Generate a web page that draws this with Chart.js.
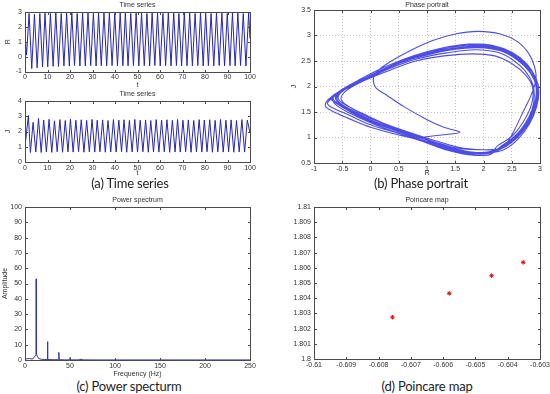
<!DOCTYPE html>
<html>
<head>
<meta charset="utf-8">
<script src="https://cdn.jsdelivr.net/npm/chart.js@4.4.1/dist/chart.umd.min.js"></script>
<style>
  html, body { margin:0; padding:0; background:#fff; width:550px; height:394px; overflow:hidden; }
  body { position:relative; }
  canvas { position:absolute; }
  .cap { position:absolute; transform:translate(-50%,-50%); font-family:Lato, 'Open Sans', sans-serif; font-size:13px; letter-spacing:-0.2px; color:#1e1e1e; white-space:nowrap; }
</style>
</head>
<body>
<canvas id="cR"></canvas>
<canvas id="cJ"></canvas>
<canvas id="cP"></canvas>
<canvas id="cS"></canvas>
<canvas id="cM"></canvas>
<div class="cap" style="left:130px;top:183px">(a) Time series</div>
<div class="cap" style="left:421px;top:183px">(b) Phase portrait</div>
<div class="cap" style="left:129px;top:386px">(c) Power specturm</div>
<div class="cap" style="left:427px;top:386px">(d) Poincare map</div>
<script>
// ---------------- DATA ----------------
// Time series R(t): times of turning points and values
const rTime = [0,0.7,1.8,3.0,4.2,5.4,6.6,7.8,8.9,10.1,11.3,12.5,13.7,14.9,16.1,17.3,18.5,19.7,20.8,22.0,23.2,24.4,25.6,26.8,28.0,29.2,30.4,31.6,32.7,33.9,35.1,36.3,37.5,38.7,39.9,41.1,42.3,43.5,44.6,45.8,47.0,48.2,49.4,50.6,51.8,53.0,54.2,55.4,56.5,57.7,58.9,60.1,61.3,62.5,63.7,64.9,66.1,67.3,68.4,69.6,70.8,72.0,73.2,74.4,75.6,76.8,78.0,79.2,80.3,81.5,82.7,83.9,85.1,86.3,87.5,88.7,89.9,91.1,92.2,93.4,94.6,95.8,97.0,98.2,99.4,100];
const rValue = [1.5,0.1,
  2.9,-0.8, 2.85,-0.75, 2.9,-0.7, 2.92,-0.68, 2.9,-0.65, 2.93,-0.66, 2.9,-0.62, 2.92,-0.64, 2.93,-0.6, 2.9,-0.63,
  2.92,-0.62, 2.93,-0.6, 2.9,-0.63, 2.92,-0.61, 2.93,-0.62, 2.92,-0.6, 2.9,-0.63, 2.93,-0.61, 2.92,-0.62, 2.9,-0.6,
  2.93,-0.63, 2.92,-0.61, 2.9,-0.62, 2.93,-0.6, 2.92,-0.63, 2.9,-0.61, 2.93,-0.62, 2.92,-0.6, 2.9,-0.63, 2.93,-0.61,
  2.92,-0.62, 2.9,-0.6, 2.93,-0.63, 2.92,-0.61, 2.9,-0.62, 2.93,-0.6, 2.92,-0.63, 2.9,-0.61, 2.93,-0.62, 2.92,-0.6,
  2.9,-0.63,
  2.93, 1.2];
// Time series J(t)
const jTime = [0,1.5,2.4,3.6,4.8,6.0,7.2,8.3,9.5,10.7,11.9,13.1,14.3,15.5,16.7,17.9,19.1,20.2,21.4,22.6,23.8,25.0,26.2,27.4,28.6,29.8,31.0,32.1,33.3,34.5,35.7,36.9,38.1,39.3,40.5,41.7,42.9,44.0,45.2,46.4,47.6,48.8,50.0,51.2,52.4,53.6,54.8,55.9,57.1,58.3,59.5,60.7,61.9,63.1,64.3,65.5,66.7,67.8,69.0,70.2,71.4,72.6,73.8,75.0,76.2,77.4,78.6,79.7,80.9,82.1,83.3,84.5,85.7,86.9,88.1,89.3,90.5,91.6,92.8,94.0,95.2,96.4,97.6,98.8,100];
const jValue = [1.0,3.05,
  0.62,2.6, 0.65,2.85, 0.62,2.75, 0.66,2.8, 0.63,2.7, 0.67,2.78, 0.64,2.72, 0.66,2.8, 0.65,2.74, 0.67,2.77,
  0.64,2.73, 0.66,2.79, 0.65,2.74, 0.67,2.76, 0.64,2.72, 0.66,2.78, 0.65,2.75, 0.67,2.77, 0.64,2.73, 0.66,2.79,
  0.65,2.74, 0.67,2.76, 0.64,2.72, 0.66,2.78, 0.65,2.75, 0.67,2.77, 0.64,2.73, 0.66,2.79, 0.65,2.74, 0.67,2.76,
  0.64,2.72, 0.66,2.78, 0.65,2.75, 0.67,2.77, 0.64,2.73, 0.66,2.79, 0.65,2.74, 0.67,2.76, 0.64,2.72, 0.66,2.78,
  0.65,2.75,
  1.9];

// Phase portrait (R, J) trajectory: transient and successive loops
const transient = [[0.95,1.01],[1.25,1.05],[1.58,1.1],[1.3,1.2],[1.0,1.35],[0.6,1.6],[0.3,1.82],[0.1,1.97],[0.05,2.1],[0.08,2.25],[0.3,2.45],[0.7,2.7],[1.1,2.9],[1.5,3.03],[1.9,3.08],[2.3,3.03],[2.6,2.88],[2.8,2.65],[2.9,2.4],[2.93,2.15],[2.85,1.85],[2.7,1.5],[2.55,1.15],[2.42,0.9]];
const loop1 = [[2.3,0.78],[1.9,0.7],[1.5,0.78],[1.0,0.92],[0.5,1.05],[0.0,1.2],[-0.4,1.38],[-0.68,1.52],[-0.8,1.62],[-0.74,1.75],[-0.5,1.94],[-0.1,2.15],[0.4,2.42],[1.0,2.66],[1.5,2.78],[1.9,2.82],[2.3,2.75],[2.6,2.58],[2.85,2.3],[2.95,2.0],[2.92,1.7],[2.8,1.35],[2.6,1.05],[2.35,0.82]];
const loop2 = [[2.2,0.74],[1.8,0.68],[1.4,0.76],[1.0,0.9],[0.5,1.08],[0.0,1.25],[-0.4,1.45],[-0.7,1.6],[-0.76,1.68],[-0.65,1.8],[-0.45,1.96],[0.0,2.2],[0.5,2.45],[1.0,2.62],[1.5,2.73],[1.9,2.76],[2.3,2.7],[2.6,2.52],[2.82,2.28],[2.93,2.0],[2.9,1.65],[2.75,1.3],[2.55,1.0],[2.3,0.8]];
const loop3 = [[2.1,0.7],[1.7,0.7],[1.3,0.8],[0.9,0.96],[0.4,1.15],[0.0,1.32],[-0.35,1.5],[-0.62,1.68],[-0.7,1.76],[-0.58,1.86],[-0.42,1.98],[0.1,2.25],[0.6,2.5],[1.1,2.66],[1.6,2.76],[2.0,2.78],[2.4,2.68],[2.7,2.46],[2.88,2.2],[2.95,1.95],[2.9,1.6],[2.78,1.28],[2.55,0.98],[2.3,0.78]];
const loop4 = [[2.0,0.76],[1.6,0.8],[1.2,0.92],[0.8,1.06],[0.3,1.25],[-0.1,1.45],[-0.4,1.62],[-0.52,1.75],[-0.45,1.9],[-0.2,2.07],[0.3,2.3],[0.8,2.5],[1.3,2.6],[1.8,2.64],[2.2,2.6],[2.5,2.45],[2.75,2.22],[2.87,1.98],[2.85,1.65],[2.7,1.3],[2.5,1.02],[2.25,0.84]];
const loop5 = [[2.15,0.72],[1.75,0.72],[1.35,0.82],[0.95,0.97],[0.5,1.13],[0.05,1.32],[-0.3,1.52],[-0.58,1.7],[-0.62,1.8],[-0.48,1.93],[-0.2,2.1],[0.3,2.37],[0.8,2.57],[1.3,2.7],[1.8,2.77],[2.2,2.74],[2.5,2.6],[2.75,2.38],[2.9,2.12],[2.95,1.88],[2.9,1.58],[2.78,1.27],[2.58,1.0],[2.35,0.8]];
const loop6 = [[2.05,0.68],[1.65,0.7],[1.25,0.8],[0.85,0.95],[0.4,1.12],[0.0,1.3],[-0.35,1.5],[-0.6,1.68],[-0.66,1.78],[-0.55,1.9],[-0.35,2.02],[0.1,2.27],[0.6,2.52],[1.1,2.68],[1.6,2.77],[2.0,2.8],[2.4,2.7],[2.72,2.45],[2.9,2.15],[2.96,1.9],[2.92,1.6],[2.8,1.3],[2.6,1.02],[2.35,0.8]];
const loop7 = [[2.0,0.76],[1.6,0.78],[1.2,0.89],[0.8,1.04],[0.35,1.22],[-0.05,1.4],[-0.38,1.6],[-0.56,1.74],[-0.55,1.85],[-0.42,1.96],[-0.12,2.12],[0.35,2.36],[0.85,2.55],[1.35,2.66],[1.85,2.72],[2.25,2.67],[2.52,2.52],[2.74,2.3],[2.87,2.05],[2.9,1.82],[2.86,1.55],[2.73,1.26],[2.53,1.0],[2.3,0.82]];
const loop8 = [[2.1,0.66],[1.7,0.67],[1.3,0.77],[0.9,0.93],[0.45,1.1],[0.0,1.29],[-0.37,1.48],[-0.62,1.65],[-0.67,1.78],[-0.52,1.93],[-0.22,2.12],[0.25,2.38],[0.75,2.6],[1.25,2.75],[1.75,2.83],[2.15,2.81],[2.5,2.67],[2.77,2.44],[2.93,2.16],[2.98,1.9],[2.94,1.6],[2.82,1.28],[2.62,0.98],[2.36,0.76]];
const loop9 = [[2.08,0.7],[1.68,0.71],[1.28,0.81],[0.88,0.96],[0.42,1.14],[0.0,1.33],[-0.35,1.52],[-0.58,1.69],[-0.61,1.8],[-0.48,1.93],[-0.22,2.1],[0.22,2.33],[0.72,2.55],[1.22,2.69],[1.72,2.77],[2.12,2.77],[2.46,2.64],[2.73,2.41],[2.9,2.14],[2.95,1.9],[2.91,1.6],[2.79,1.29],[2.59,1.01],[2.34,0.8]];
const loop10 = [[2.12,0.71],[1.72,0.72],[1.32,0.82],[0.92,0.98],[0.48,1.15],[0.02,1.34],[-0.33,1.53],[-0.56,1.7],[-0.59,1.81],[-0.46,1.94],[-0.18,2.12],[0.28,2.37],[0.78,2.58],[1.28,2.71],[1.78,2.79],[2.18,2.76],[2.5,2.61],[2.76,2.39],[2.91,2.12],[2.96,1.88],[2.92,1.58],[2.8,1.28],[2.6,1.0],[2.35,0.8],[2.1,0.7]];

// Power spectrum
const freq = [0,2,5,8,10,11.5,12.2,12.4,12.6,12.8,13.0,13.6,15,18,22,24.6,25.0,25.4,30,37.2,37.6,38.0,44,49.7,50.1,50.5,60,62.5,63,80,100,150,200,250];
const amp  = [0.3,0.8,1.0,0.6,1.5,3.0,4.5,53,4.5,24,4,2.5,1.0,0.5,0.3,0.3,12,0.3,0.2,0.2,5,0.2,0.1,0.1,1.5,0.1,0.1,0.6,0.1,0.05,0.05,0.05,0.05,0.05];

// Poincare map
const poincareR = [-0.60757,-0.60581,-0.60450,-0.60352];
const poincareJ = [1.80275,1.80432,1.80548,1.80636];

// ---------------- DRAWING ----------------
const FONT = "'Liberation Sans', Arial, sans-serif";
const TXT = '#333';
const tickFont = {family: FONT, size: 7};
const fmt = v => String(+Number(v).toFixed(4));

const boxPlugin = {
  id: 'box',
  afterDraw(chart) {
    const {ctx, chartArea: a, scales} = chart;
    const l = Math.round(a.left) + 0.5, t = Math.round(a.top) + 0.5;
    const r = Math.round(a.right) + 0.5, b = Math.round(a.bottom) + 0.5;
    ctx.save();
    ctx.strokeStyle = '#4a4a4a';
    ctx.lineWidth = 1;
    ctx.strokeRect(l, t, r - l, b - t);
    const L = 2.5;
    ctx.beginPath();
    scales.x.ticks.forEach(tk => {
      const p = Math.round(scales.x.getPixelForValue(tk.value)) + 0.5;
      ctx.moveTo(p, b); ctx.lineTo(p, b - L);
      ctx.moveTo(p, t); ctx.lineTo(p, t + L);
    });
    scales.y.ticks.forEach(tk => {
      const p = Math.round(scales.y.getPixelForValue(tk.value)) + 0.5;
      ctx.moveTo(l, p); ctx.lineTo(l + L, p);
      ctx.moveTo(r, p); ctx.lineTo(r - L, p);
    });
    ctx.stroke();
    ctx.restore();
  }
};

function panel(id, rect, area, o) {
  const cv = document.getElementById(id);
  cv.width = rect.w; cv.height = rect.h;
  cv.style.left = rect.x + 'px'; cv.style.top = rect.y + 'px';
  cv.style.width = rect.w + 'px'; cv.style.height = rect.h + 'px';
  const yW = area.l - rect.x;
  const xH = rect.y + rect.h - area.b;
  const padR = rect.x + rect.w - area.r;
  const tpb = area.t - rect.y - 7 * 1.2;
  const gridOpt = o.grid
    ? {display: true, drawTicks: false, color: '#b5b5b5', lineWidth: 0.8}
    : {display: false, drawTicks: false};
  const borderOpt = o.grid ? {display: false, dash: [1, 2]} : {display: false};
  const axisTitle = (txt, pad) => txt
    ? {display: true, text: txt, color: TXT, font: {family: FONT, size: 7}, padding: pad}
    : {display: false};
  return new Chart(cv, {
    type: 'line',
    data: {datasets: o.datasets},
    options: {
      responsive: false, animation: false, events: [],
      layout: {padding: {left: 0, top: 0, right: padR, bottom: 0}},
      plugins: {
        legend: {display: false}, tooltip: {enabled: false},
        title: {display: true, text: o.title, fullSize: false, color: TXT,
          font: {family: FONT, size: 7, weight: 'normal'}, padding: {top: 0, bottom: tpb}}
      },
      scales: {
        x: {type: 'linear', min: o.x[0], max: o.x[1],
          afterFit(s) { s.height = xH; },
          ticks: {stepSize: o.x[2], autoSkip: false, maxRotation: 0, font: tickFont, color: TXT, padding: 1.5, callback: fmt},
          grid: gridOpt, border: borderOpt,
          title: axisTitle(o.xTitle, {top: 0, bottom: o.xTitlePad || 0})},
        y: {type: 'linear', min: o.y[0], max: o.y[1],
          afterFit(s) { s.width = yW; },
          ticks: {stepSize: o.y[2], autoSkip: false, font: tickFont, color: TXT, padding: 3, callback: fmt},
          grid: gridOpt, border: borderOpt,
          title: axisTitle(o.yTitle, {top: o.yTitlePad || 0, bottom: 0})}
      }
    },
    plugins: [boxPlugin]
  });
}

const zip = (xs, ys) => xs.slice(0, Math.min(xs.length, ys.length)).map((x, i) => ({x, y: ys[i]}));
const pairs = arr => arr.map(p => ({x: p[0], y: p[1]}));

const tsStyle = {borderColor: '#2626b4', borderWidth: 1, pointRadius: 0, tension: 0, fill: false};

panel('cR', {x: 0, y: 1, w: 262, h: 89}, {l: 25, t: 12, r: 250, b: 71.5}, {
  title: 'Time series', x: [0, 100, 10], y: [-1, 3, 1], xTitle: 't', yTitle: 'R', yTitlePad: 4, xTitlePad: 1,
  datasets: [Object.assign({data: zip(rTime, rValue)}, tsStyle)]
});
panel('cJ', {x: 0, y: 90, w: 262, h: 87}, {l: 25, t: 101, r: 250, b: 162}, {
  title: 'Time series', x: [0, 100, 10], y: [0, 4, 1], xTitle: 't', yTitle: 'J', yTitlePad: 4, xTitlePad: 0,
  datasets: [Object.assign({data: zip(jTime, jValue)}, tsStyle)]
});
const phasePath = [].concat(transient, loop1, loop2, loop3, loop4, loop5, loop6, loop7, loop8, loop9, loop10);
panel('cP', {x: 276, y: 1, w: 278, h: 176}, {l: 314, t: 10, r: 540, b: 163}, {
  title: 'Phase portrait', x: [-1, 3, 0.5], y: [0.5, 3.5, 0.5], xTitle: 'R', yTitle: 'J', yTitlePad: 14, xTitlePad: 0, grid: true,
  datasets: [{data: pairs(phasePath), borderColor: 'rgba(10,10,220,0.72)', borderWidth: 1.1, pointRadius: 0, tension: 0.35, fill: false}]
});
panel('cS', {x: 0, y: 196, w: 262, h: 182}, {l: 25, t: 207, r: 250, b: 360}, {
  title: 'Power spectrum', x: [0, 250, 50], y: [0, 100, 10], xTitle: 'Frequency (Hz)', yTitle: 'Amplitude', yTitlePad: 1, xTitlePad: 0,
  datasets: [{data: zip(freq, amp), borderColor: '#3535a8', borderWidth: 1, pointRadius: 0, tension: 0, fill: false}]
});
panel('cM', {x: 276, y: 196, w: 278, h: 176}, {l: 314, t: 207, r: 540, b: 359}, {
  title: 'Poincare map', x: [-0.61, -0.603, 0.001], y: [1.8, 1.81, 0.001],
  datasets: [{data: zip(poincareR, poincareJ), showLine: false, pointStyle: 'star', pointRadius: 2.3, borderColor: '#e01010', backgroundColor: '#e01010', borderWidth: 1}]
});
</script>
</body>
</html>
